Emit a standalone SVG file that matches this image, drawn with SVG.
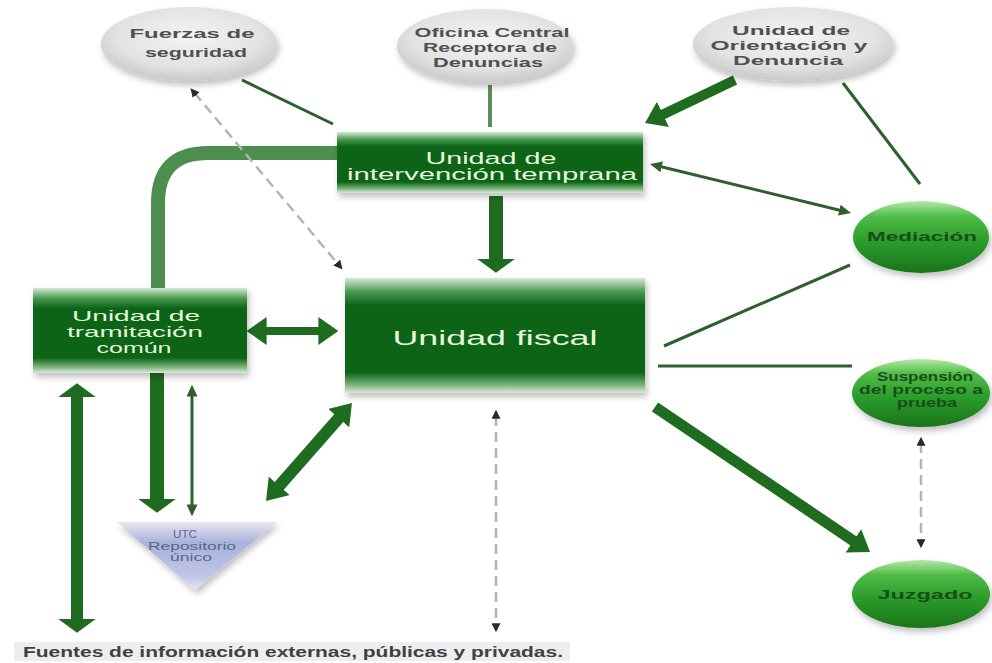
<svg xmlns="http://www.w3.org/2000/svg" width="992" height="663" viewBox="0 0 992 663">
<defs>
<style>
.box{fill:url(#boxG);filter:url(#sh)}
.boxt{font-family:"Liberation Sans",Arial,sans-serif;fill:#e6f7dc;text-anchor:middle}
.gell{fill:url(#grayG);filter:url(#sh)}
.gt{font-family:"Liberation Sans",Arial,sans-serif;font-weight:bold;fill:#505050;font-size:13px;text-anchor:middle}
.nell{fill:url(#greenG);filter:url(#sh)}
.nt{font-family:"Liberation Sans",Arial,sans-serif;font-weight:bold;fill:#174f17;font-size:12px;text-anchor:middle}
.thick{stroke:#1f6b1f;fill:none}
.thin{stroke:#2e5f2e;stroke-width:3;fill:none}
.dash{stroke:#b4b4b4;stroke-width:2.5;stroke-dasharray:10 6;fill:none}
</style>
<filter id="sh" x="-20%" y="-20%" width="140%" height="150%">
<feDropShadow dx="2" dy="4" stdDeviation="3" flood-color="#000" flood-opacity="0.25"/>
</filter>
<linearGradient id="boxG" x1="0" y1="0" x2="0" y2="1">
<stop offset="0" stop-color="#d6ead6"/>
<stop offset="0.12" stop-color="#4a9a52"/>
<stop offset="0.24" stop-color="#0b6418"/>
<stop offset="0.82" stop-color="#0b6418"/>
<stop offset="0.93" stop-color="#7ab57a"/>
<stop offset="1" stop-color="#dfe8df"/>
</linearGradient>
<radialGradient id="grayG" cx="0.5" cy="0.4" r="0.6">
<stop offset="0" stop-color="#f4f4f4"/>
<stop offset="0.7" stop-color="#e2e2e2"/>
<stop offset="1" stop-color="#c9c9c9"/>
</radialGradient>
<linearGradient id="greenG" x1="0" y1="0" x2="0" y2="1">
<stop offset="0" stop-color="#b4eaa8"/>
<stop offset="0.22" stop-color="#4fbb47"/>
<stop offset="0.55" stop-color="#2c9d2c"/>
<stop offset="1" stop-color="#1a741a"/>
</linearGradient>
<linearGradient id="triG" x1="0" y1="0" x2="0" y2="1">
<stop offset="0" stop-color="#e8e8ee"/>
<stop offset="0.15" stop-color="#c9cde6"/>
<stop offset="0.3" stop-color="#aab2dc"/>
<stop offset="0.8" stop-color="#c0c6e6"/>
<stop offset="1" stop-color="#e4e6f2"/>
</linearGradient>
<marker id="big" viewBox="0 0 10 10" refX="3" refY="5" markerUnits="userSpaceOnUse" markerWidth="14" markerHeight="38" orient="auto-start-reverse" preserveAspectRatio="none">
<path d="M0,0 L10,5 L0,10 z" fill="#1f6b1f"/>
</marker>
<marker id="mid" viewBox="0 0 10 10" refX="3" refY="5" markerUnits="userSpaceOnUse" markerWidth="20" markerHeight="28" orient="auto-start-reverse" preserveAspectRatio="none">
<path d="M0,0 L10,5 L0,10 z" fill="#1f6b1f"/>
</marker>
<marker id="thn" viewBox="0 0 10 10" refX="3" refY="5" markerUnits="userSpaceOnUse" markerWidth="12" markerHeight="11" orient="auto-start-reverse" preserveAspectRatio="none">
<path d="M0,0 L10,5 L0,10 z" fill="#2e5f2e"/>
</marker>
<marker id="dsh" viewBox="0 0 10 10" refX="3" refY="5" markerUnits="userSpaceOnUse" markerWidth="9" markerHeight="9" orient="auto-start-reverse" preserveAspectRatio="none">
<path d="M0,0 L10,5 L0,10 z" fill="#2a2a2a"/>
</marker>
</defs>
<rect width="992" height="663" fill="#ffffff"/>

<g id="connectors">
<path d="M338,153 H208 Q158,153 158,203 V292" stroke="#4d8d4d" stroke-width="14" fill="none"/>
<line x1="157" y1="370" x2="157" y2="503" class="thick" stroke-width="14" marker-end="url(#big)"/>
<line x1="242" y1="80" x2="333" y2="124" class="thin"/>
<line x1="490" y1="85" x2="490" y2="127" stroke="#5e8e5e" stroke-width="4"/>
<line x1="735" y1="80" x2="657.6" y2="117" class="thick" stroke-width="10" marker-end="url(#mid)"/>
<line x1="843" y1="83" x2="920" y2="184" class="thin"/>
<line x1="658.2" y1="166" x2="842.8" y2="211" class="thin" marker-start="url(#thn)" marker-end="url(#thn)"/>
<line x1="496" y1="196" x2="496" y2="263" class="thick" stroke-width="14" marker-end="url(#big)"/>
<line x1="850" y1="265" x2="664" y2="346" class="thin"/>
<line x1="658" y1="366" x2="852" y2="366" class="thin"/>
<line x1="655" y1="407" x2="858.4" y2="544.2" class="thick" stroke-width="11" marker-end="url(#mid)"/>
<line x1="260.6" y1="331" x2="324.4" y2="331" class="thick" stroke-width="8" marker-start="url(#mid)" marker-end="url(#mid)"/>
<line x1="342.7" y1="413.6" x2="275.3" y2="490.4" class="thick" stroke-width="12" marker-start="url(#mid)" marker-end="url(#mid)"/>
<line x1="77" y1="393" x2="77" y2="623" class="thick" stroke-width="12" marker-start="url(#big)" marker-end="url(#big)"/>
<line x1="192" y1="393" x2="192" y2="508" class="thin" marker-start="url(#thn)" marker-end="url(#thn)"/>
<line x1="194.5" y1="93" x2="338.5" y2="264.6" class="dash" marker-start="url(#dsh)" marker-end="url(#dsh)"/>
<line x1="496" y1="416" x2="496" y2="626" class="dash" marker-start="url(#dsh)" marker-end="url(#dsh)"/>
<line x1="921" y1="443" x2="921" y2="542" class="dash" marker-start="url(#dsh)" marker-end="url(#dsh)"/>
</g>

<g id="fuerzas">
<ellipse class="gell" cx="189" cy="44" rx="88" ry="37"/>
<text class="gt" x="192" y="38" textLength="125" lengthAdjust="spacingAndGlyphs">Fuerzas de</text>
<text class="gt" x="196" y="57" textLength="102" lengthAdjust="spacingAndGlyphs">seguridad</text>
</g>
<g id="oficina">
<ellipse class="gell" cx="485" cy="46" rx="88" ry="37"/>
<text class="gt" x="492" y="37" textLength="155" lengthAdjust="spacingAndGlyphs">Oficina Central</text>
<text class="gt" x="490" y="52" textLength="134" lengthAdjust="spacingAndGlyphs">Receptora de</text>
<text class="gt" x="488" y="67" textLength="110" lengthAdjust="spacingAndGlyphs">Denuncias</text>
</g>
<g id="orientacion">
<ellipse class="gell" cx="793" cy="44" rx="100" ry="37"/>
<text class="gt" x="791" y="35" textLength="118" lengthAdjust="spacingAndGlyphs">Unidad de</text>
<text class="gt" x="789" y="50" textLength="157" lengthAdjust="spacingAndGlyphs">Orientación y</text>
<text class="gt" x="788" y="65" textLength="110" lengthAdjust="spacingAndGlyphs">Denuncia</text>
</g>

<g id="uit">
<rect class="box" x="337" y="132" width="306" height="61"/>
<text class="boxt" x="491" y="164" font-size="16" textLength="131" lengthAdjust="spacingAndGlyphs">Unidad de</text>
<text class="boxt" x="492" y="180" font-size="16" textLength="290" lengthAdjust="spacingAndGlyphs">intervención temprana</text>
</g>
<g id="fiscal">
<rect class="box" x="345" y="278" width="300" height="115"/>
<text class="boxt" x="495" y="345" font-size="20" textLength="205" lengthAdjust="spacingAndGlyphs">Unidad fiscal</text>
</g>
<g id="tramitacion">
<rect class="box" x="33" y="288" width="214" height="85"/>
<text class="boxt" x="136" y="321" font-size="15" textLength="128" lengthAdjust="spacingAndGlyphs">Unidad de</text>
<text class="boxt" x="135" y="337" font-size="15" textLength="136" lengthAdjust="spacingAndGlyphs">tramitación</text>
<text class="boxt" x="134" y="353" font-size="15" textLength="75" lengthAdjust="spacingAndGlyphs">común</text>
</g>
<g id="utc">
<polygon points="117,522 277,522 195,590" fill="url(#triG)" filter="url(#sh)"/>
<text x="185" y="538" font-family="Liberation Sans, Arial, sans-serif" font-size="10" fill="#5a6688" text-anchor="middle" textLength="24" lengthAdjust="spacingAndGlyphs">UTC</text>
<text x="192" y="550" font-family="Liberation Sans, Arial, sans-serif" font-size="10" fill="#5a6688" text-anchor="middle" textLength="88" lengthAdjust="spacingAndGlyphs">Repositorio</text>
<text x="191" y="561" font-family="Liberation Sans, Arial, sans-serif" font-size="10" fill="#5a6688" text-anchor="middle" textLength="42" lengthAdjust="spacingAndGlyphs">único</text>
</g>

<g id="mediacion">
<ellipse class="nell" cx="921" cy="237" rx="68" ry="36"/>
<text class="nt" x="922" y="241" textLength="110" lengthAdjust="spacingAndGlyphs">Mediación</text>
</g>
<g id="suspension">
<ellipse class="nell" cx="921" cy="393" rx="69" ry="34"/>
<text class="nt" x="925" y="381" font-size="9" textLength="96" lengthAdjust="spacingAndGlyphs">Suspensión</text>
<text class="nt" x="921" y="394" font-size="9" textLength="124" lengthAdjust="spacingAndGlyphs">del proceso a</text>
<text class="nt" x="927" y="407" font-size="9" textLength="60" lengthAdjust="spacingAndGlyphs">prueba</text>
</g>
<g id="juzgado">
<ellipse class="nell" cx="921" cy="594" rx="69" ry="34"/>
<text class="nt" x="925" y="599" textLength="95" lengthAdjust="spacingAndGlyphs">Juzgado</text>
</g>

<g id="fuentes">
<rect x="14" y="642" width="556" height="19" fill="#eeeeee"/>
<text x="23" y="657" font-family="Liberation Sans, Arial, sans-serif" font-weight="bold" font-size="14" fill="#404040" textLength="540" lengthAdjust="spacingAndGlyphs">Fuentes de información externas, públicas y privadas.</text>
</g>
</svg>
